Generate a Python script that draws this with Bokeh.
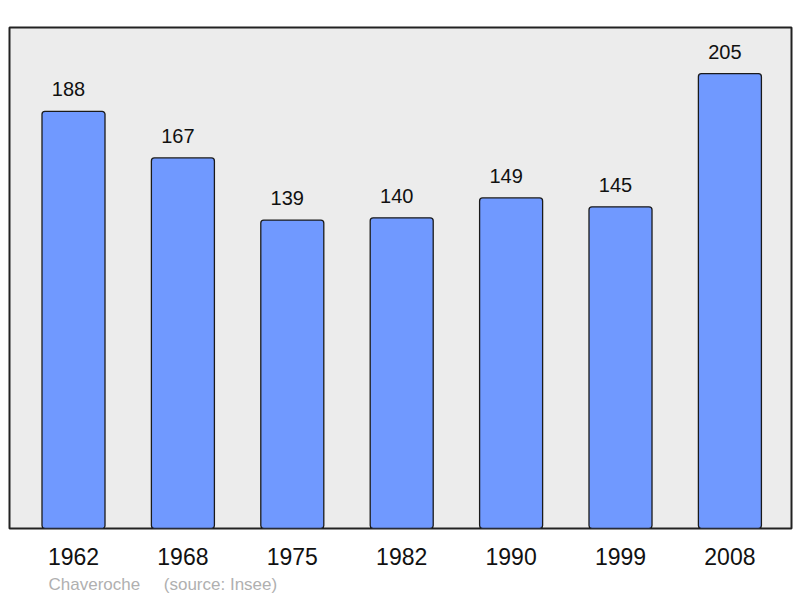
from bokeh.plotting import figure
from bokeh.models import ColumnDataSource, FixedTicker, Range1d, Title
from bokeh.core.properties import value
from bokeh.embed import file_html
from bokeh.resources import INLINE

years = ["1962", "1968", "1975", "1982", "1990", "1999", "2008"]
population = [188, 167, 139, 140, 149, 145, 205]
footer = "Chaveroche\u00a0\u00a0\u00a0\u00a0\u00a0(source: Insee)"

xs = list(range(len(years)))
src = ColumnDataSource(dict(x=xs, top=population, label=[str(v) for v in population]))

p = figure(width=800, height=598, output_backend="svg", toolbar_location=None,
           x_range=Range1d(-0.585, 6.563), y_range=Range1d(0, 225.8),
           min_border_left=9, min_border_right=9, min_border_top=27, min_border_bottom=70)
p.background_fill_color = "#ececec"
p.border_fill_color = "white"
p.outline_line_color = "#222222"
p.outline_line_width = 2
p.grid.visible = False
p.yaxis.visible = False

p.vbar(x="x", top="top", bottom=0, width=0.576, source=src,
       fill_color="#7099ff", line_color="#1a1a1a", line_width=1.3, border_radius=3)
p.text(x="x", y="top", text="label", source=src, y_offset=-22, x_offset=-5,
       text_align="center", text_baseline="middle",
       text_font=value("Liberation Sans"), text_font_size="20px", text_color="#111111")

ax = p.xaxis[0]
ax.ticker = FixedTicker(ticks=xs)
ax.major_label_overrides = {i: y for i, y in enumerate(years)}
ax.major_label_text_font = "Liberation Sans"
ax.major_label_text_font_size = "23px"
ax.major_label_text_color = "#111111"
ax.major_label_standoff = 13
ax.axis_line_color = None
ax.major_tick_line_color = None
ax.minor_tick_line_color = None

t = Title(text=footer, align="left", offset=39, text_color="#b0b0b0",
          text_font="Liberation Sans", text_font_size="17px", text_font_style="normal")
p.add_layout(t, "below")

open("out.html", "w").write(file_html(p, INLINE))
